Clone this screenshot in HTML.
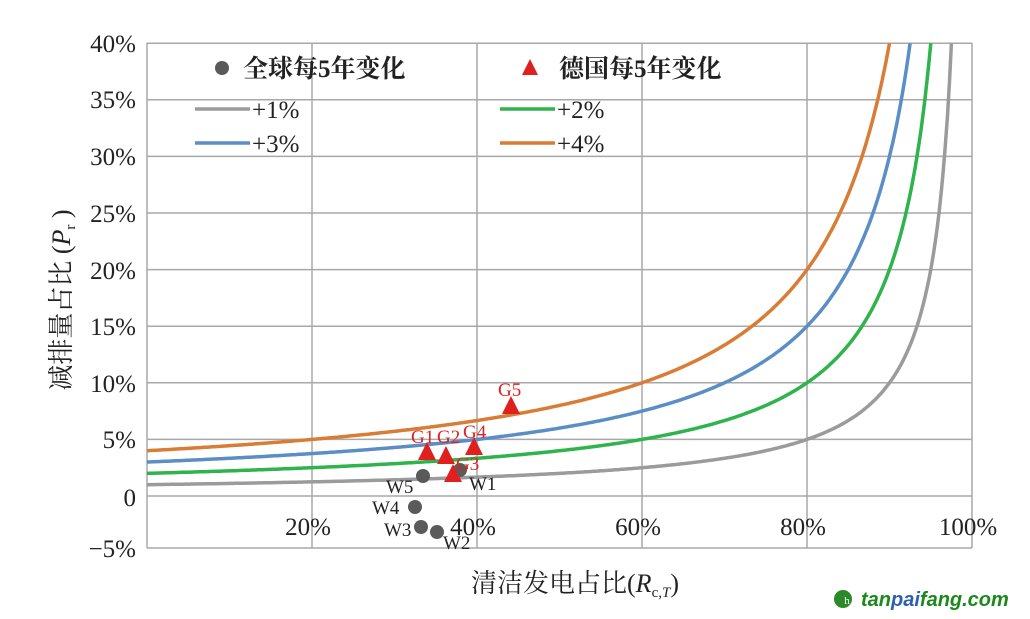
<!DOCTYPE html>
<html><head><meta charset="utf-8"><style>
html,body{margin:0;padding:0;background:#fff;width:1030px;height:619px;overflow:hidden}
svg text{font-family:"Liberation Serif","Noto Serif CJK SC",serif;fill:#222}
</style></head><body>
<svg id="s" width="1030" height="619" xmlns="http://www.w3.org/2000/svg">
<g id="grid" stroke="#a8a8a8" stroke-width="1.5" fill="none"></g>
<g id="curves" fill="none" stroke-width="3.5"></g>
<g font-size="25" text-anchor="end">
<text x="136" y="52">40%</text><text x="136" y="108">35%</text><text x="136" y="165">30%</text>
<text x="136" y="222">25%</text><text x="136" y="279">20%</text><text x="136" y="335">15%</text>
<text x="136" y="392">10%</text><text x="136" y="448">5%</text><text x="136" y="506">0</text>
<text x="136" y="557">−5%</text>
</g>
<g font-size="25" text-anchor="middle">
<text x="308" y="535">20%</text><text x="473" y="535">40%</text><text x="638" y="535">60%</text>
<text x="803" y="535">80%</text><text x="968" y="535">100%</text>
</g>
<text x="575" y="592" font-size="26" text-anchor="middle">清洁发电占比(<tspan font-style="italic">R</tspan><tspan font-size="15" dy="5">c,<tspan font-style="italic">T</tspan></tspan><tspan dy="-5">)</tspan></text>
<text transform="translate(70,300) rotate(-90)" font-size="26" text-anchor="middle">减排量占比 (<tspan font-style="italic">P</tspan><tspan font-size="15" dy="5">r</tspan><tspan dy="-5"> )</tspan></text>
<!-- legend -->
<circle cx="222" cy="68" r="7" fill="#5a5a5a"/>
<text x="243" y="77" font-size="25" font-weight="bold">全球每5年变化</text>
<polygon points="530,59 538,75 522,75" fill="#e02020"/>
<text x="559" y="77" font-size="25" font-weight="bold">德国每5年变化</text>
<line x1="195" y1="109" x2="250" y2="109" stroke="#9b9b9b" stroke-width="3.5"/><text x="252" y="118" font-size="25">+1%</text>
<line x1="500" y1="109" x2="555" y2="109" stroke="#2fb34c" stroke-width="3.5"/><text x="557" y="118" font-size="25">+2%</text>
<line x1="195" y1="143" x2="250" y2="143" stroke="#5b8ec4" stroke-width="3.5"/><text x="252" y="152" font-size="25">+3%</text>
<line x1="500" y1="143" x2="555" y2="143" stroke="#d97c35" stroke-width="3.5"/><text x="557" y="152" font-size="25">+4%</text>
<!-- points -->
<g fill="#5a5a5a">
<circle cx="423" cy="476" r="7"/><circle cx="460" cy="470" r="7"/><circle cx="415" cy="507" r="7"/>
<circle cx="421" cy="527" r="7"/><circle cx="437" cy="532" r="7"/>
</g>
<g font-size="19">
<text x="386" y="493">W5</text><text x="469" y="490">W1</text><text x="372" y="514">W4</text>
<text x="384" y="536">W3</text><text x="443" y="549">W2</text>
</g>
<g fill="#e02020">
<polygon points="427,442 436,460 418,460"/><polygon points="446,446 455,464 437,464"/>
<polygon points="453,464 462,482 444,482"/><polygon points="474,437 483,455 465,455"/>
<polygon points="511,396 520,414 502,414"/>
</g>
<g font-size="19">
<text x="411" y="443" style="fill:#e02020">G1</text><text x="437" y="443" style="fill:#e02020">G2</text>
<text x="456" y="470" style="fill:#e02020">G3</text><text x="463" y="438" style="fill:#e02020">G4</text>
<text x="498" y="396" style="fill:#e02020">G5</text>
</g>
<!-- logo -->
<circle cx="843" cy="599" r="9" fill="#2a8a2a"/>
<text x="847" y="604" font-size="11" style="fill:#fff" text-anchor="middle" font-family="Liberation Sans">h</text>
<text x="861" y="606" font-size="20" font-weight="bold" font-style="italic" style="font-family:'Liberation Sans',sans-serif;fill:#1a8a1a">tan<tspan style="fill:#2d5fb0">pai</tspan>fang.com</text>
</svg>
<script>
var ns="http://www.w3.org/2000/svg",g=document.getElementById('grid'),c=document.getElementById('curves');
function L(p,x1,y1,x2,y2){var l=document.createElementNS(ns,'line');l.setAttribute('x1',x1);l.setAttribute('y1',y1);l.setAttribute('x2',x2);l.setAttribute('y2',y2);p.appendChild(l);}
function X(r){return 147+r*825}function Y(p){return 496-p*1132}
for(var i=0;i<=8;i++){L(g,147,Y(i*0.05),972,Y(i*0.05));}
L(g,147,548,972,548);
for(var i=0;i<=5;i++){L(g,X(i*0.2),43,X(i*0.2),548);}
var cols={0.01:'#9b9b9b',0.02:'#2fb34c',0.03:'#5b8ec4',0.04:'#d97c35'};
[0.01,0.02,0.03,0.04].forEach(function(r){var rm=1-r/0.4,d='';
for(var k=0;k<=400;k++){var R=rm*k/400,P=r/(1-R);d+=(k?'L':'M')+X(R).toFixed(1)+' '+Y(P).toFixed(1);}
var p=document.createElementNS(ns,'path');p.setAttribute('d',d);p.setAttribute('stroke',cols[r]);c.appendChild(p);});
</script>
</body></html>
